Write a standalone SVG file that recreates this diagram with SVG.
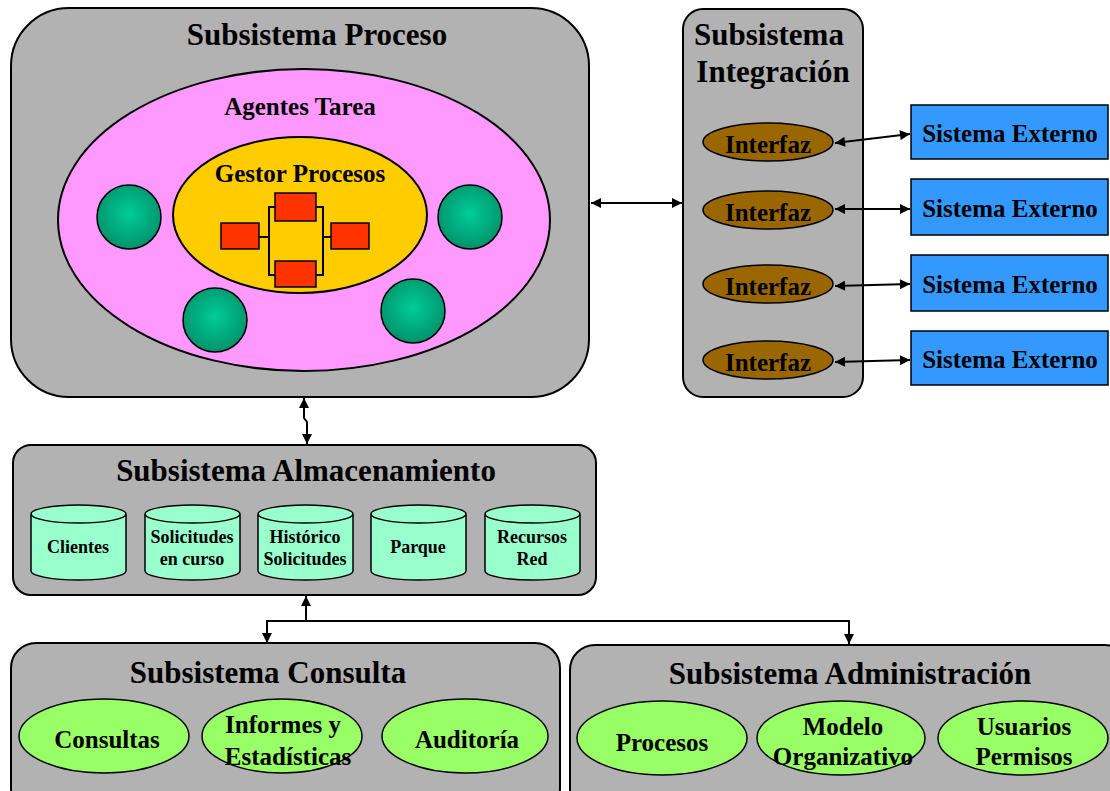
<svg xmlns="http://www.w3.org/2000/svg" width="1110" height="791" viewBox="0 0 1110 791">
  <style>
    text { font-family: "Liberation Serif", "Times New Roman", serif; font-weight: bold; fill: #000; text-anchor: middle; }
    .title { font-size: 31px; }
    .lbl { font-size: 25px; }
    .small { font-size: 18px; }
    .box { fill: #b2b2b2; stroke: #000; stroke-width: 2; }
    .agent { fill: url(#teal); stroke: #000; stroke-width: 1.5; }
    .task { fill: #ff3300; stroke: #000; stroke-width: 1.5; }
    .iface { fill: #996600; stroke: #000; stroke-width: 1.5; }
    .ext { fill: #3399ff; stroke: #000; stroke-width: 1.5; }
    .db { fill: #99ffcc; stroke: #000; stroke-width: 1.5; }
    .mod { fill: #99ff66; stroke: #000; stroke-width: 1.5; }
    .link { fill: none; stroke: #000; stroke-width: 2; }
    .wire { fill: none; stroke: #000; stroke-width: 2; }
  </style>
  <defs>
    <radialGradient id="teal" cx="50%" cy="45%" r="55%">
      <stop offset="0" stop-color="#00cc99"/>
      <stop offset="1" stop-color="#00936a"/>
    </radialGradient>
    <marker id="arr" viewBox="0 0 10 10" refX="10" refY="5" markerWidth="12" markerHeight="10" markerUnits="userSpaceOnUse" orient="auto-start-reverse">
      <path d="M0,0 L10,5 L0,10 Z" fill="#000"/>
    </marker>
  </defs>

  <!-- Process subsystem -->
  <g id="subsistema-proceso">
    <rect class="box" x="11" y="8" width="578" height="389" rx="58" ry="58"/>
    <text class="title" x="317" y="45">Subsistema Proceso</text>
    <ellipse cx="304" cy="220" rx="246" ry="151" fill="#ff99ff" stroke="#000" stroke-width="2"/>
    <text class="lbl" x="300" y="115">Agentes Tarea</text>
    <g id="gestor-procesos">
      <ellipse cx="300" cy="215" rx="127" ry="78" fill="#ffcc00" stroke="#000" stroke-width="2"/>
      <text class="lbl" x="300" y="182">Gestor Procesos</text>
      <path class="wire" d="M275,207 H269 V275 H275 M259,237 H269 M316,207 H323 V275 H316 M323,237 H331"/>
      <rect class="task" x="275" y="193" width="41" height="28"/>
      <rect class="task" x="221" y="223" width="38" height="26"/>
      <rect class="task" x="331" y="223" width="38" height="26"/>
      <rect class="task" x="275" y="261" width="41" height="26"/>
    </g>
    <circle class="agent" cx="129" cy="217" r="32"/>
    <circle class="agent" cx="470" cy="217" r="32"/>
    <circle class="agent" cx="215" cy="320" r="32"/>
    <circle class="agent" cx="413" cy="311" r="32"/>
  </g>

  <!-- Integration subsystem -->
  <g id="subsistema-integracion">
    <rect class="box" x="683" y="9" width="180" height="388" rx="20" ry="20"/>
    <text class="title" x="769" y="45">Subsistema</text>
    <text class="title" x="773" y="82">Integración</text>
    <g id="interfaz-1"><ellipse class="iface" cx="768" cy="142" rx="65" ry="19"/><text class="lbl" x="768" y="153">Interfaz</text></g>
    <g id="interfaz-2"><ellipse class="iface" cx="768" cy="210" rx="65" ry="19"/><text class="lbl" x="768" y="221">Interfaz</text></g>
    <g id="interfaz-3"><ellipse class="iface" cx="768" cy="284" rx="65" ry="19"/><text class="lbl" x="768" y="295">Interfaz</text></g>
    <g id="interfaz-4"><ellipse class="iface" cx="768" cy="360" rx="65" ry="19"/><text class="lbl" x="768" y="371">Interfaz</text></g>
  </g>

  <g id="sistema-externo-1"><rect class="ext" x="911" y="105" width="197" height="54"/><text class="lbl" x="1010" y="142">Sistema Externo</text></g>
  <g id="sistema-externo-2"><rect class="ext" x="911" y="179" width="197" height="56"/><text class="lbl" x="1010" y="217">Sistema Externo</text></g>
  <g id="sistema-externo-3"><rect class="ext" x="911" y="255" width="197" height="56"/><text class="lbl" x="1010" y="293">Sistema Externo</text></g>
  <g id="sistema-externo-4"><rect class="ext" x="911" y="331" width="197" height="54"/><text class="lbl" x="1010" y="368">Sistema Externo</text></g>

  <!-- Storage subsystem -->
  <g id="subsistema-almacenamiento">
    <rect class="box" x="13" y="445" width="583" height="150" rx="18" ry="18"/>
    <text class="title" x="306" y="481">Subsistema Almacenamiento</text>
    <g id="db-clientes">
      <path class="db" d="M31,514 V571 A47.5,9 0 0 0 126,571 V514 A47.5,9 0 0 0 31,514 Z M31,514 A47.5,9 0 0 0 126,514"/>
      <text class="small" x="78" y="553">Clientes</text>
    </g>
    <g id="db-solicitudes">
      <path class="db" d="M145,514 V571 A47.5,9 0 0 0 240,571 V514 A47.5,9 0 0 0 145,514 Z M145,514 A47.5,9 0 0 0 240,514"/>
      <text class="small" x="192" y="543">Solicitudes</text>
      <text class="small" x="192" y="565">en curso</text>
    </g>
    <g id="db-historico">
      <path class="db" d="M258,514 V571 A47.5,9 0 0 0 353,571 V514 A47.5,9 0 0 0 258,514 Z M258,514 A47.5,9 0 0 0 353,514"/>
      <text class="small" x="305" y="543">Histórico</text>
      <text class="small" x="305" y="565">Solicitudes</text>
    </g>
    <g id="db-parque">
      <path class="db" d="M371,514 V571 A47.5,9 0 0 0 466,571 V514 A47.5,9 0 0 0 371,514 Z M371,514 A47.5,9 0 0 0 466,514"/>
      <text class="small" x="418" y="553">Parque</text>
    </g>
    <g id="db-recursos">
      <path class="db" d="M485,514 V571 A47.5,9 0 0 0 580,571 V514 A47.5,9 0 0 0 485,514 Z M485,514 A47.5,9 0 0 0 580,514"/>
      <text class="small" x="532" y="543">Recursos</text>
      <text class="small" x="532" y="565">Red</text>
    </g>
  </g>

  <!-- Query subsystem -->
  <g id="subsistema-consulta">
    <rect class="box" x="11" y="643" width="549" height="170" rx="25" ry="25"/>
    <text class="title" x="268" y="683">Subsistema Consulta</text>
    <ellipse class="mod" cx="104" cy="736" rx="85" ry="37"/>
    <text class="lbl" x="107" y="748">Consultas</text>
    <ellipse class="mod" cx="282" cy="736" rx="80" ry="37"/>
    <text class="lbl" x="283" y="733">Informes y</text>
    <text class="lbl" x="288" y="765">Estadísticas</text>
    <ellipse class="mod" cx="465" cy="736" rx="83" ry="37"/>
    <text class="lbl" x="467" y="748">Auditoría</text>
  </g>

  <!-- Administration subsystem -->
  <g id="subsistema-administracion">
    <rect class="box" x="570" y="645" width="560" height="170" rx="25" ry="25"/>
    <text class="title" x="850" y="684">Subsistema Administración</text>
    <ellipse class="mod" cx="662" cy="738" rx="85" ry="37"/>
    <text class="lbl" x="662" y="751">Procesos</text>
    <ellipse class="mod" cx="841" cy="738" rx="84" ry="37"/>
    <text class="lbl" x="843" y="735">Modelo</text>
    <text class="lbl" x="843" y="765">Organizativo</text>
    <ellipse class="mod" cx="1023" cy="738" rx="85" ry="37"/>
    <text class="lbl" x="1024" y="735">Usuarios</text>
    <text class="lbl" x="1024" y="765">Permisos</text>
  </g>

  <!-- Connectors -->
  <g id="connectors">
    <path class="link" d="M591,203 H682" marker-start="url(#arr)" marker-end="url(#arr)"/>
    <path class="link" d="M835,143 L910,134" marker-start="url(#arr)" marker-end="url(#arr)"/>
    <path class="link" d="M835,209 H910" marker-start="url(#arr)" marker-end="url(#arr)"/>
    <path class="link" d="M835,286 L910,284" marker-start="url(#arr)" marker-end="url(#arr)"/>
    <path class="link" d="M835,362 L910,360" marker-start="url(#arr)" marker-end="url(#arr)"/>
    <path class="link" d="M304,398 V418 L307,422 V444" marker-start="url(#arr)" marker-end="url(#arr)"/>
    <path class="link" d="M306,596 V621" marker-start="url(#arr)"/>
    <path class="link" d="M306,621 H267 V643" marker-end="url(#arr)"/>
    <path class="link" d="M306,621 H849 V644" marker-end="url(#arr)"/>
  </g>
</svg>
